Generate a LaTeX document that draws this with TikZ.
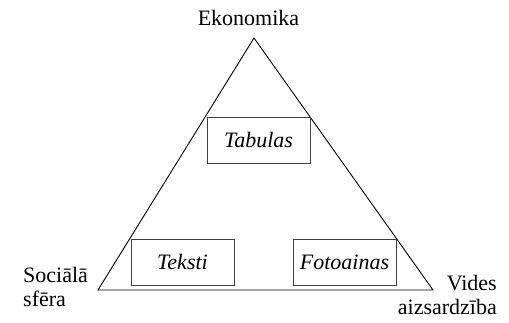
\documentclass[tikz,border=0pt]{standalone}
\usepackage{fontspec}
\setmainfont{Liberation Serif}

\begin{document}
\begin{tikzpicture}[x=1pt, y=-1pt,
    every node/.style={font=\fontsize{22}{24.5}\selectfont},
    topic/.style={draw=black!75, line width=0.6pt, minimum width=103pt, minimum height=46pt, inner sep=0pt, font=\fontsize{22}{24.5}\selectfont\itshape}]

    \useasboundingbox (0,0) rectangle (509,323);

    % corners of the triangle
    \coordinate (top) at (254,38);
    \coordinate (left) at (98,290);
    \coordinate (right) at (433,290);

    \draw[line width=0.9pt] (top) -- (left) -- (right) -- cycle;

    % the three boxes inside
    \node[topic] (tab) at (258.5,140) {Tabulas};
    \node[topic] (tek) at (182.5,262) {Teksti};
    \node[topic] (foto) at (344.5,262) {Fotoainas};

    % corner labels
    \node[anchor=base] (eko) at (248.5,26) {Ekonomika};
    \node[anchor=base west, align=left, inner sep=0pt] (soc) at (23,307) {Sociālā\\sfēra};
    \node[anchor=base east, align=right, inner sep=0pt] (vid) at (497,315) {Vides\\aizsardzība};

\end{tikzpicture}
\end{document}
